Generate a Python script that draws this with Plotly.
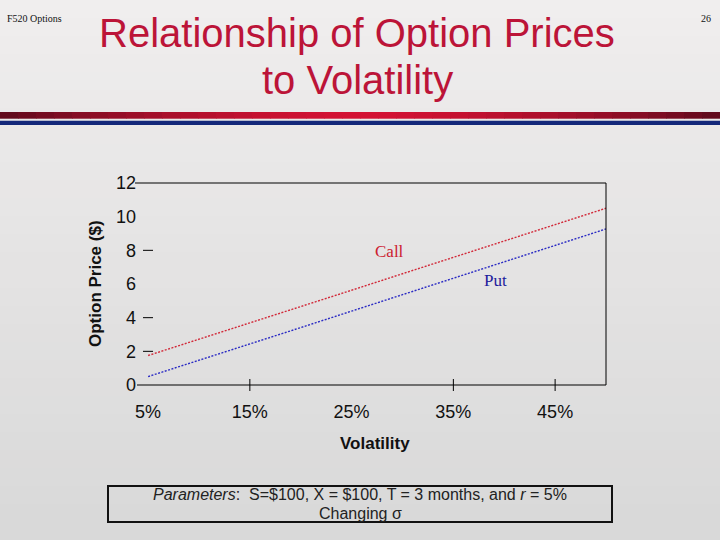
import plotly.graph_objects as go

# ---- data ----
volatility = [5, 10, 15, 20, 25, 30, 35, 40, 45, 50]
call_price = [1.75, 2.71, 3.67, 4.65, 5.63, 6.61, 7.58, 8.56, 9.54, 10.50]
put_price = [0.50, 1.46, 2.43, 3.41, 4.39, 5.37, 6.34, 7.32, 8.30, 9.27]

x_tick_vals = [5, 15, 25, 35, 45]
x_tick_text = ["5%", "15%", "25%", "35%", "45%"]
x_tick_marks = [15, 35, 45]
y_tick_vals = [0, 2, 4, 6, 8, 10, 12]
y_tick_marks = [2, 4, 8]

# ---- geometry helpers (pixel -> paper) ----
W, H = 720, 540
L, R, T, B = 143, 606, 183, 385
PW, PH = R - L, B - T


def px(x):
    return (x - L) / PW


def py(y):
    return (B - y) / PH


fig = go.Figure()
fig.add_trace(go.Scatter(x=volatility, y=call_price, mode="lines",
                         line=dict(color="#d22a3a", width=1.4, dash="2px,1.5px"),
                         showlegend=False, hoverinfo="skip"))
fig.add_trace(go.Scatter(x=volatility, y=put_price, mode="lines",
                         line=dict(color="#2c2cc4", width=1.4, dash="2px,1.5px"),
                         showlegend=False, hoverinfo="skip"))

shapes = []
# background gradient
n = 30
top_c = (240, 238, 238)
bot_c = (217, 217, 217)
for i in range(n):
    f = i / (n - 1)
    c = tuple(int(top_c[k] + (bot_c[k] - top_c[k]) * f) for k in range(3))
    y0 = i * H / n
    y1 = (i + 1) * H / n + 1
    shapes.append(dict(type="rect", xref="paper", yref="paper", layer="below",
                       x0=px(0), x1=px(W), y0=py(y1), y1=py(y0),
                       line=dict(width=0), fillcolor="rgb(%d,%d,%d)" % c))

# header red gradient bar
m = 40
for i in range(m):
    f = abs((i + 0.5) / m - 0.5) * 2  # 0 at center, 1 at edges
    c0 = (212, 18, 52)
    c1 = (95, 10, 28)
    c = tuple(int(c0[k] + (c1[k] - c0[k]) * f ** 1.6) for k in range(3))
    xa = i * W / m
    xb = (i + 1) * W / m + 0.5
    shapes.append(dict(type="rect", xref="paper", yref="paper", layer="below",
                       x0=px(xa), x1=px(xb), y0=py(118.7), y1=py(112),
                       line=dict(width=0), fillcolor="rgb(%d,%d,%d)" % c))
# header blue bar
shapes.append(dict(type="rect", xref="paper", yref="paper", layer="below",
                   x0=px(0), x1=px(W), y0=py(125), y1=py(120.7),
                   line=dict(width=0), fillcolor="#14287a"))

# frame: top, bottom, right
frame = dict(color="black", width=1)
shapes.append(dict(type="line", xref="paper", yref="paper", x0=px(135), x1=1, y0=1, y1=1, line=frame))
shapes.append(dict(type="line", xref="paper", yref="paper", x0=px(137), x1=1, y0=0, y1=0, line=frame))
shapes.append(dict(type="line", xref="paper", yref="paper", x0=1, x1=1, y0=0, y1=1, line=frame))
# y tick marks (inside)
for v in y_tick_marks:
    shapes.append(dict(type="line", xref="paper", yref="y", x0=0, x1=px(153), y0=v, y1=v, line=frame))
# x tick marks (crossing)
for v in x_tick_marks:
    shapes.append(dict(type="line", xref="x", yref="paper", x0=v, x1=v, y0=py(391), y1=py(379), line=frame))

# parameters box
shapes.append(dict(type="rect", xref="paper", yref="paper",
                   x0=px(108), x1=px(612), y0=py(522), y1=py(486),
                   line=dict(color="#111111", width=2), fillcolor="rgba(0,0,0,0)"))


def ann(text, x, y, size, color, family="Liberation Sans, Arial", xanchor="center", **kw):
    d = dict(text=text, x=x, y=y, xref="paper", yref="paper", showarrow=False,
             xanchor=xanchor, yanchor="middle",
             font=dict(family=family, size=size, color=color))
    d.update(kw)
    return d


serif = "Liberation Serif, Times New Roman"
annotations = [
    ann("Relationship of Option Prices", px(357), py(33), 40, "#bc1438"),
    ann("to Volatility", px(357), py(80), 40, "#bc1438"),
    ann("F520 Options", px(5), py(18), 10, "#111", family=serif, xanchor="left"),
    ann("26", px(713), py(18), 10, "#111", family=serif, xanchor="right"),
    ann("<b>Option Price ($)</b>", px(95), 0.5, 17, "#111", textangle=-90),
    ann("<b>Volatility</b>", 0.5, py(443), 17, "#111"),
    dict(text="Call", x=28.7, y=7.96, xref="x", yref="y", showarrow=False,
         xanchor="center", yanchor="middle",
         font=dict(family=serif, size=17, color="#cc2030")),
    dict(text="Put", x=39.1, y=6.18, xref="x", yref="y", showarrow=False,
         xanchor="center", yanchor="middle",
         font=dict(family=serif, size=17, color="#1c1c9c")),
    ann("<i>Parameters</i>:  S=$100, X = $100, T = 3 months, and <i>r</i> = 5%",
        px(360), py(494), 16, "#222"),
    ann("Changing σ", px(360), py(513), 16, "#222"),
]

fig.update_layout(
    width=W, height=H, autosize=False,
    margin=dict(l=L, r=W - R, t=T, b=H - B, pad=0),
    paper_bgcolor="#e6e6e6", plot_bgcolor="rgba(0,0,0,0)",
    shapes=shapes, annotations=annotations,
    xaxis=dict(range=[4.5, 50], tickvals=x_tick_vals, ticktext=x_tick_text, ticks="",
               showgrid=False, zeroline=False, showline=False, ticklabelstandoff=14,
               tickfont=dict(family="Liberation Sans, Arial", size=18, color="#111")),
    yaxis=dict(range=[0, 12], tickvals=y_tick_vals, ticks="",
               showgrid=False, zeroline=False, showline=False, ticklabelstandoff=6,
               tickfont=dict(family="Liberation Sans, Arial", size=18, color="#111")),
)

fig.write_html("out.html", config={"displayModeBar": False},
               post_script="document.body.style.margin='0px';")
